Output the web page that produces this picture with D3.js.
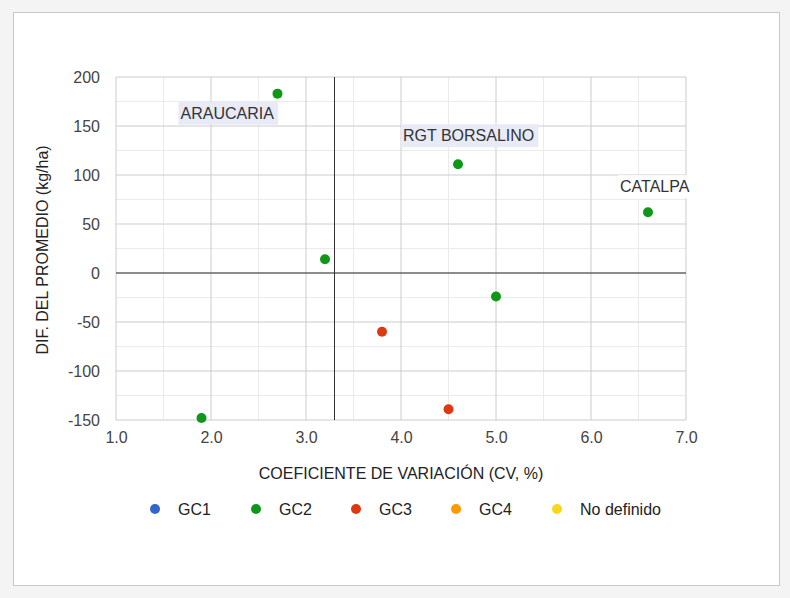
<!DOCTYPE html>
<html>
<head>
<meta charset="utf-8">
<script src="https://cdn.jsdelivr.net/npm/d3@7"></script>
<style>
  body { margin: 0; background: #f4f4f4; }
  svg { display: block; }
  text { font-family: Arial, "Liberation Sans", sans-serif; }
</style>
</head>
<body>
<svg id="chart" width="790" height="598"></svg>
<script>
// data
var groups = ["GC1", "GC2", "GC3", "GC4", "No definido"];
var groupColors = ["#3366cc", "#109618", "#dc3912", "#ff9900", "#f9d71c"];

var cvValues = [2.7, 4.6, 6.6, 3.2, 5.0, 3.8, 4.5, 1.9];
var difValues = [183, 111, 62, 14, -24, -60, -139, -148];
var pointGroups = ["GC2", "GC2", "GC2", "GC2", "GC2", "GC3", "GC3", "GC2"];
var pointNames = ["ARAUCARIA", "RGT BORSALINO", "CATALPA", "", "", "", "", ""];

var xTicks = [1, 2, 3, 4, 5, 6, 7];
var yTicks = [-150, -100, -50, 0, 50, 100, 150, 200];
var meanCV = 3.3;

var svg = d3.select("#chart");

// white panel
svg.append("rect")
    .attr("x", 13.5).attr("y", 12.5)
    .attr("width", 766).attr("height", 573)
    .attr("fill", "#fff").attr("stroke", "#c8c8c8");

var x = d3.scaleLinear().domain([1, 7]).range([116, 686]);
var y = d3.scaleLinear().domain([-150, 200]).range([420, 77]);
var color = d3.scaleOrdinal().domain(groups).range(groupColors);

var g = svg.append("g");

// minor gridlines
var xMinor = d3.range(1.5, 7, 1);
var yMinor = d3.range(-125, 200, 50);
g.selectAll(".xminor").data(xMinor).enter().append("line")
    .attr("x1", d => x(d)).attr("x2", d => x(d))
    .attr("y1", y(200)).attr("y2", y(-150))
    .attr("stroke", "#ebebeb");
g.selectAll(".yminor").data(yMinor).enter().append("line")
    .attr("x1", x(1)).attr("x2", x(7))
    .attr("y1", d => y(d)).attr("y2", d => y(d))
    .attr("stroke", "#ebebeb");

// major gridlines
g.selectAll(".xmajor").data(xTicks).enter().append("line")
    .attr("x1", d => x(d)).attr("x2", d => x(d))
    .attr("y1", y(200)).attr("y2", y(-150))
    .attr("stroke", "#cccccc");
g.selectAll(".ymajor").data(yTicks).enter().append("line")
    .attr("x1", x(1)).attr("x2", x(7))
    .attr("y1", d => y(d)).attr("y2", d => y(d))
    .attr("stroke", "#cccccc");

// zero line and mean CV line
g.append("line")
    .attr("x1", x(1)).attr("x2", x(7))
    .attr("y1", y(0)).attr("y2", y(0))
    .attr("stroke", "#333");
g.append("line")
    .attr("x1", x(meanCV)).attr("x2", x(meanCV))
    .attr("y1", y(200)).attr("y2", y(-150))
    .attr("stroke", "#333");

// axes (text only)
var xAxis = d3.axisBottom(x).tickValues(xTicks).tickFormat(d3.format(".1f")).tickSize(0).tickPadding(12);
var yAxis = d3.axisLeft(y).tickValues(yTicks).tickFormat(d => String(d)).tickSize(0).tickPadding(16);

var xa = svg.append("g").attr("transform", "translate(0," + y(-150) + ")").call(xAxis);
var ya = svg.append("g").attr("transform", "translate(" + x(1) + ",0)").call(yAxis);
[xa, ya].forEach(function (a) {
    a.select(".domain").remove();
    a.selectAll("text")
        .attr("fill", "#444")
        .style("font-size", "16px")
        .style("font-family", "Arial, 'Liberation Sans', sans-serif");
});

// axis titles
svg.append("text")
    .attr("x", 401).attr("y", 479)
    .attr("text-anchor", "middle")
    .attr("fill", "#222").style("font-size", "16px")
    .text("COEFICIENTE DE VARIACIÓN (CV, %)");
svg.append("text")
    .attr("transform", "translate(48,250) rotate(-90)")
    .attr("text-anchor", "middle")
    .attr("fill", "#222").style("font-size", "16px")
    .text("DIF. DEL PROMEDIO (kg/ha)");

// points
var pts = cvValues.map(function (v, i) {
    return { cv: v, dif: difValues[i], grp: pointGroups[i], name: pointNames[i] };
});

g.selectAll(".pt").data(pts).enter().append("circle")
    .attr("cx", d => x(d.cv)).attr("cy", d => y(d.dif))
    .attr("r", 5)
    .attr("fill", d => color(d.grp));

// point labels
var labelStyle = {
    "ARAUCARIA": { dx: -97, dy: 25, bg: "#e8eaf6" },
    "RGT BORSALINO": { dx: -55, dy: -23, bg: "#e8eaf6" },
    "CATALPA": { dx: -28, dy: -20, bg: "#ffffff" }
};
var lab = g.selectAll(".lab").data(pts.filter(d => d.name)).enter().append("g");
lab.append("text")
    .attr("x", d => x(d.cv) + labelStyle[d.name].dx)
    .attr("y", d => y(d.dif) + labelStyle[d.name].dy)
    .attr("fill", "#333").style("font-size", "16px")
    .text(d => d.name);
lab.each(function (d) {
    var t = d3.select(this).select("text");
    var bb = t.node().getBBox();
    d3.select(this).insert("rect", "text")
        .attr("x", bb.x - 2).attr("y", bb.y - 3)
        .attr("width", bb.width + 6).attr("height", bb.height + 6)
        .attr("fill", labelStyle[d.name].bg);
});

// legend
var legendX = [155, 256, 356, 456, 557];
var leg = svg.selectAll(".leg").data(groups).enter().append("g")
    .attr("transform", (d, i) => "translate(" + legendX[i] + ",509)");
leg.append("circle").attr("r", 5).attr("fill", d => color(d));
leg.append("text")
    .attr("x", 23).attr("y", 6)
    .attr("fill", "#222").style("font-size", "16px")
    .text(d => d);
</script>
</body>
</html>
